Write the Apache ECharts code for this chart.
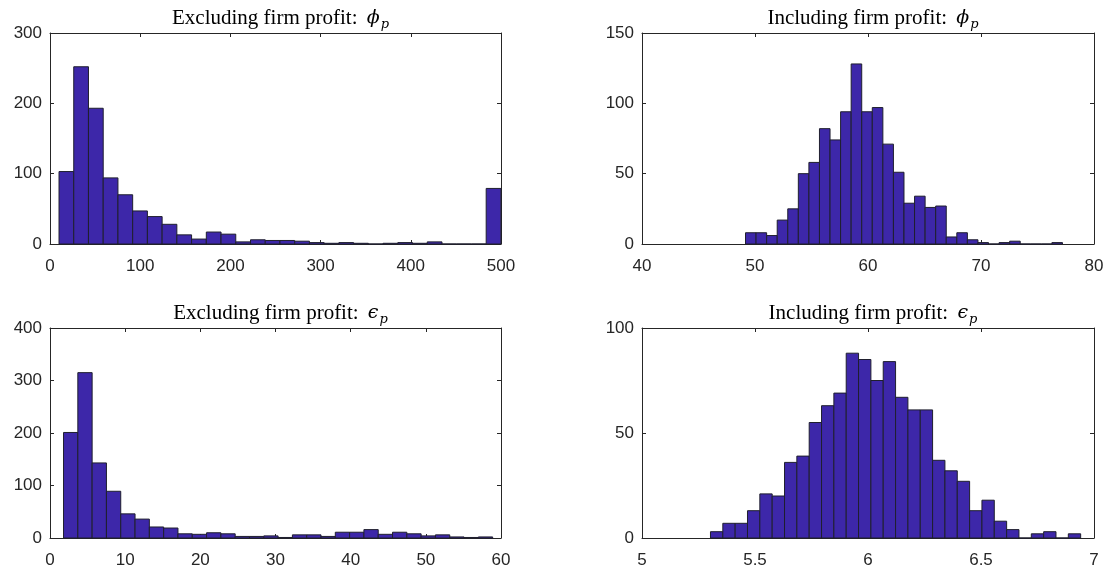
<!DOCTYPE html>
<html>
<head>
<meta charset="utf-8">
<script src="https://cdn.jsdelivr.net/npm/echarts@6/dist/echarts.min.js"></script>
<style>
  html, body { margin: 0; padding: 0; background: #fff; }
  #chart { width: 1113px; height: 569px; }
</style>
</head>
<body>
<div id="chart"></div>
<script>
// histogram counts (30 bins each)
var phiExclCounts = [103, 252, 193, 94, 70, 47, 39, 28, 13, 7, 17, 14, 3, 6, 5, 5, 4, 2, 1, 2, 1, 0, 1, 2, 1, 3, 0, 0, 0, 79];
var phiInclCounts = [8, 8, 6, 17, 25, 50, 58, 82, 74, 94, 128, 94, 97, 71, 51, 29, 34, 26, 27, 5, 8, 3, 1, 0, 1, 2, 0, 0, 0, 1];
var epsExclCounts = [201, 315, 143, 89, 46, 36, 21, 19, 8, 7, 10, 8, 3, 3, 4, 1, 6, 6, 3, 11, 11, 16, 7, 11, 8, 4, 6, 2, 1, 2];
var epsInclCounts = [3, 7, 7, 13, 21, 20, 36, 39, 55, 63, 69, 88, 85, 75, 84, 67, 61, 61, 37, 32, 27, 13, 18, 8, 4, 0, 2, 3, 0, 2];

// first bin edge and bin width of each histogram
var phiExclBins = { start: 10, width: 16.33 };
var phiInclBins = { start: 49.16, width: 0.935 };
var epsExclBins = { start: 1.8, width: 1.903 };
var epsInclBins = { start: 5.303, width: 0.0546 };

// axis limits and tick steps
var phiExclX = [0, 500, 100], phiExclY = [0, 300, 100];
var phiInclX = [40, 80, 10],  phiInclY = [0, 150, 50];
var epsExclX = [0, 60, 10],   epsExclY = [0, 400, 100];
var epsInclX = [5, 7, 0.5],   epsInclY = [0, 100, 50];

var titles = [
  ['Excluding firm profit: ', 'ϕ'],
  ['Including firm profit: ', 'ϕ'],
  ['Excluding firm profit: ', 'ϵ'],
  ['Including firm profit: ', 'ϵ']
];

var grids = [
  { left: 50, top: 33, width: 451, height: 211 },
  { left: 642, top: 33, width: 452, height: 211 },
  { left: 50, top: 328, width: 451, height: 210 },
  { left: 642, top: 328, width: 452, height: 210 }
];

var panels = [
  { counts: phiExclCounts, bins: phiExclBins, x: phiExclX, y: phiExclY },
  { counts: phiInclCounts, bins: phiInclBins, x: phiInclX, y: phiInclY },
  { counts: epsExclCounts, bins: epsExclBins, x: epsExclX, y: epsExclY },
  { counts: epsInclCounts, bins: epsInclBins, x: epsInclX, y: epsInclY }
];

var axisColor = '#262626';
var barFill = '#3d27a9';
var barEdge = '#1f1f2e';

function binData(counts, bins) {
  return counts.map(function (c, i) {
    var lo = bins.start + i * bins.width;
    return [lo, lo + bins.width, c];
  });
}

function renderBin(params, api) {
  var p0 = api.coord([api.value(0), api.value(2)]);
  var p1 = api.coord([api.value(1), 0]);
  return {
    type: 'rect',
    shape: { x: p0[0], y: p0[1], width: p1[0] - p0[0], height: p1[1] - p0[1] },
    style: { fill: barFill, stroke: barEdge, lineWidth: 1 }
  };
}

function makeAxis(lim, gridIndex, position, labels) {
  return {
    type: 'value',
    gridIndex: gridIndex,
    position: position,
    min: lim[0], max: lim[1], interval: lim[2],
    splitLine: { show: false },
    axisLine: { show: true, onZero: false, lineStyle: { color: axisColor, width: 1 } },
    axisTick: { show: true, inside: true, length: 4, lineStyle: { color: axisColor } },
    axisLabel: {
      show: labels,
      showMinLabel: true, showMaxLabel: true,
      margin: (position === 'bottom' || position === 'top') ? 14 : 8,
      color: axisColor,
      fontFamily: 'Liberation Sans',
      fontSize: 17
    }
  };
}

var xAxes = [], yAxes = [], series = [], titleList = [];
panels.forEach(function (p, i) {
  xAxes.push(makeAxis(p.x, i, 'bottom', true));
  xAxes.push(makeAxis(p.x, i, 'top', false));
  yAxes.push(makeAxis(p.y, i, 'left', true));
  yAxes.push(makeAxis(p.y, i, 'right', false));
  series.push({
    type: 'custom',
    xAxisIndex: 2 * i,
    yAxisIndex: 2 * i,
    renderItem: renderBin,
    encode: { x: [0, 1], y: 2 },
    data: binData(p.counts, p.bins),
    silent: true
  });
  var g = grids[i];
  titleList.push({
    text: '{t|' + titles[i][0] + '}{g|' + titles[i][1] + '}{s|p}',
    left: g.left + g.width / 2,
    top: g.top - 33,
    textAlign: 'center',
    textStyle: {
      fontWeight: 'normal',
      rich: {
        t: { fontFamily: 'Liberation Serif', fontWeight: 'normal', fontSize: 21, color: '#000', lineHeight: 26 },
        g: { fontFamily: 'DejaVu Serif', fontStyle: 'italic', fontWeight: 'normal', fontSize: 19, color: '#000', lineHeight: 26, padding: [0, 0, 0, 4] },
        s: { fontFamily: 'DejaVu Serif', fontStyle: 'italic', fontWeight: 'normal', fontSize: 13, color: '#000', padding: [13, 0, 0, 1], lineHeight: 26 }
      }
    }
  });
});

var chart = echarts.init(document.getElementById('chart'), null, { renderer: 'canvas' });
chart.setOption({
  animation: false,
  backgroundColor: '#fff',
  title: titleList,
  grid: grids,
  xAxis: xAxes,
  yAxis: yAxes,
  series: series
});
</script>
</body>
</html>
